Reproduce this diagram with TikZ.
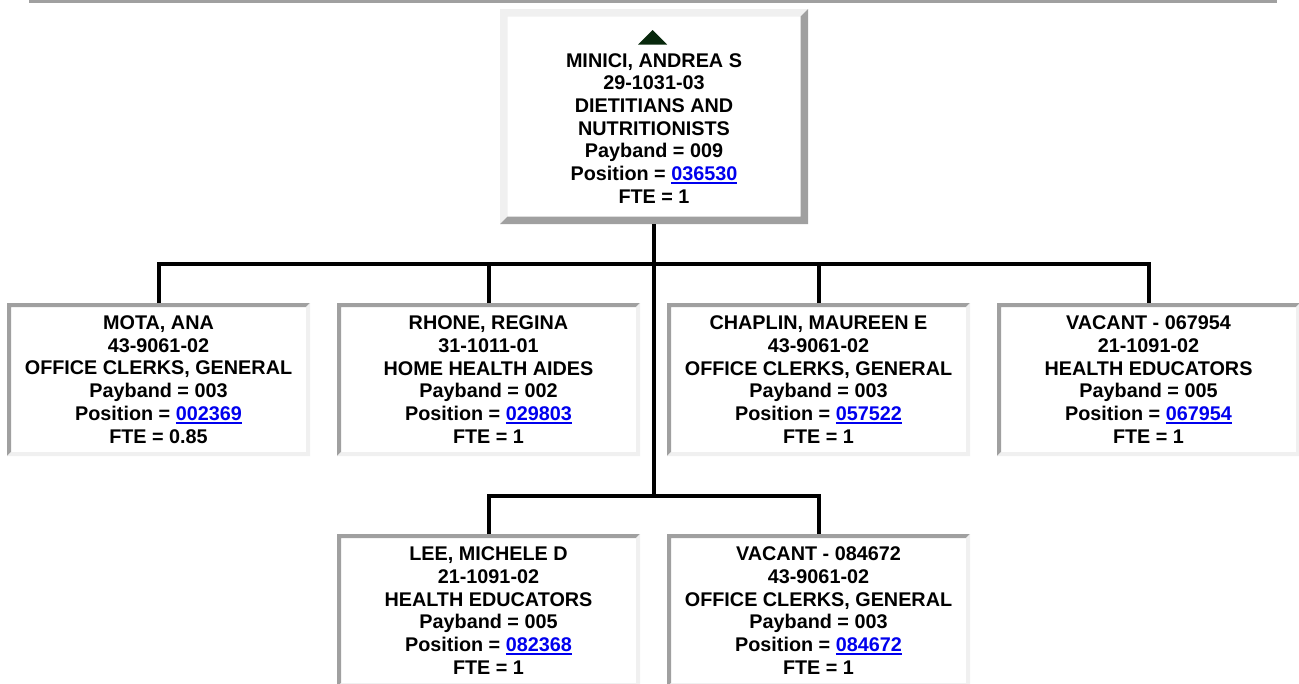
\documentclass[tikz,border=0pt]{standalone}
\usepackage{fontspec}
\setmainfont{Liberation Sans}
\definecolor{dk}{RGB}{160,160,160}
\definecolor{lt}{RGB}{240,240,240}
\definecolor{linkblue}{RGB}{0,0,238}
\definecolor{tri}{RGB}{8,40,12}
\newcommand{\boxfont}{\fontsize{19.8}{22.7}\selectfont\bfseries}
\newcommand{\ulink}[1]{{\color{linkblue}\setbox0=\hbox{#1}\rlap{\rule[-3.3pt]{\wd0}{2pt}}\box0}}
\newcommand{\bevelpaint}[3]{%
  \fill[#2] (path picture bounding box.north west) -- (path picture bounding box.north east)
    -- ([shift={(-#1,-#1)}]path picture bounding box.north east)
    -- ([shift={(#1,-#1)}]path picture bounding box.north west)
    -- ([shift={(#1,#1)}]path picture bounding box.south west)
    -- (path picture bounding box.south west) -- cycle;
  \fill[#3] (path picture bounding box.north east) -- (path picture bounding box.south east)
    -- (path picture bounding box.south west)
    -- ([shift={(#1,#1)}]path picture bounding box.south west)
    -- ([shift={(-#1,#1)}]path picture bounding box.south east)
    -- ([shift={(-#1,-#1)}]path picture bounding box.north east) -- cycle;}
\tikzset{
  insetbox/.style={draw=none, fill=white, minimum width=303pt, minimum height=153pt,
    inner sep=0pt, outer sep=0pt, align=center, font=\boxfont,
    path picture={\bevelpaint{4pt}{dk}{lt}}},
  outsetbox/.style={draw=none, fill=white, minimum width=308pt, minimum height=215pt,
    inner sep=0pt, outer sep=0pt, align=center, font=\boxfont,
    path picture={\bevelpaint{7.5pt}{lt}{dk}}},
  conn/.style={draw=black, line width=4pt, line join=miter, line cap=butt}
}
\begin{document}
\begin{tikzpicture}[x=1pt,y=-1pt]
\clip (0,0) rectangle (1299,683);
\fill[white] (0,0) rectangle (1299,683);
% top rule
\fill[dk] (29,0) rectangle (1277,2.7);

\coordinate (j1) at (654,264);
\coordinate (j2) at (654,496);

\node[outsetbox] (top) at (654,116.5) {\rule{0pt}{14.5pt}\\MINICI, ANDREA S\\29-1031-03\\DIETITIANS AND\\NUTRITIONISTS\\Payband = 009\\Position = \ulink{036530}\\FTE = 1};
\fill[tri] (638,44.5) -- (667,44.5) -- (652.5,30) -- cycle;

\node[insetbox] (mota) at (158.5,379.5) {MOTA, ANA\\43-9061-02\\OFFICE CLERKS, GENERAL\\Payband = 003\\Position = \ulink{002369}\\FTE = 0.85};
\node[insetbox] (rhone) at (488.5,379.5) {RHONE, REGINA\\31-1011-01\\HOME HEALTH AIDES\\Payband = 002\\Position = \ulink{029803}\\FTE = 1};
\node[insetbox] (chaplin) at (818.5,379.5) {CHAPLIN, MAUREEN E\\43-9061-02\\OFFICE CLERKS, GENERAL\\Payband = 003\\Position = \ulink{057522}\\FTE = 1};
\node[insetbox] (vac1) at (1148.5,379.5) {VACANT - 067954\\21-1091-02\\HEALTH EDUCATORS\\Payband = 005\\Position = \ulink{067954}\\FTE = 1};
\node[insetbox] (lee) at (488.5,610.5) {LEE, MICHELE D\\21-1091-02\\HEALTH EDUCATORS\\Payband = 005\\Position = \ulink{082368}\\FTE = 1};
\node[insetbox] (vac2) at (818.5,610.5) {VACANT - 084672\\43-9061-02\\OFFICE CLERKS, GENERAL\\Payband = 003\\Position = \ulink{084672}\\FTE = 1};

\draw[conn] (top.south) -- (j2);
\draw[conn] (mota.north) -- (mota.north |- j1) -- (vac1.north |- j1) -- (vac1.north);
\draw[conn] (rhone.north) -- (rhone.north |- j1);
\draw[conn] (chaplin.north) -- (chaplin.north |- j1);
\draw[conn] (lee.north) -- (lee.north |- j2) -- (vac2.north |- j2) -- (vac2.north);
\end{tikzpicture}
\end{document}
